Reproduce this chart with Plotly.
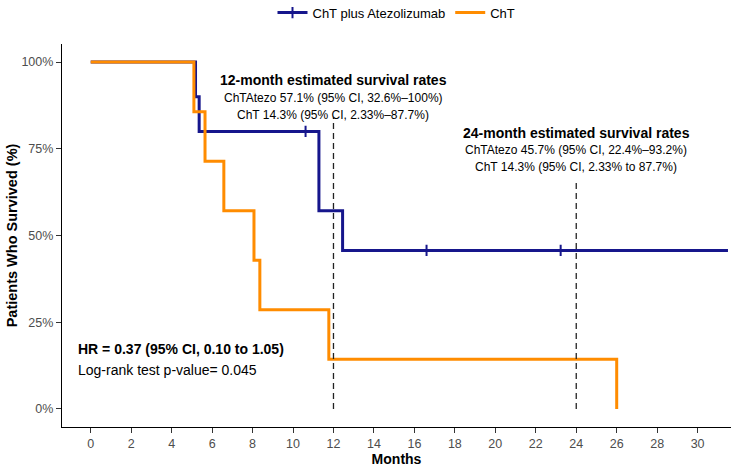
import plotly.graph_objects as go

# ---- data ----
atezo_months = [0, 5.18, 5.36, 10.62, 11.28, 12.45, 16.6, 23.23, 31.5]
atezo_surv = [100, 90, 80, 80, 57.1, 45.7, 45.7, 45.7, 45.7]
atezo_censor_months = [10.62, 16.6, 23.23]
atezo_censor_surv = [80, 45.7, 45.7]

cht_months = [0, 5.10, 5.65, 6.58, 8.07, 8.36, 11.77, 26.0]
cht_surv = [100, 85.7, 71.4, 57.1, 42.9, 28.6, 14.3, 0]

landmark_months = [12, 24]
landmark_tops = [84, 65.5]

x_ticks = list(range(0, 31, 2))
y_ticks = [0, 25, 50, 75, 100]
y_tick_labels = ["0%", "25%", "50%", "75%", "100%"]

note12 = ["12-month estimated survival rates",
          "ChTAtezo 57.1% (95% CI, 32.6%\u2013100%)",
          "ChT 14.3% (95% CI, 2.33%\u201387.7%)"]
note24 = ["24-month estimated survival rates",
          "ChTAtezo 45.7% (95% CI, 22.4%\u201393.2%)",
          "ChT 14.3% (95% CI, 2.33% to 87.7%)"]
hr_text = "HR = 0.37 (95% CI, 0.10 to 1.05)"
p_text = "Log-rank test p-value= 0.045"

BLUE = "#16168C"
ORANGE = "#FF8C00"
FONT = "Liberation Sans, Arial, sans-serif"

fig = go.Figure()

fig.add_trace(go.Scatter(
    x=atezo_months, y=atezo_surv, mode="lines", line_shape="hv",
    line=dict(color=BLUE, width=3), legendgroup="a", showlegend=False,
    hoverinfo="skip"))

# censor marks; gaps keep the points unconnected, legend shows line + "+"
cx, cy = [], []
for i, (m, s) in enumerate(zip(atezo_censor_months, atezo_censor_surv)):
    if i:
        cx.append(None); cy.append(None)
    cx.append(m); cy.append(s)
fig.add_trace(go.Scatter(
    x=cx, y=cy, mode="lines+markers", connectgaps=False,
    name="ChT plus Atezolizumab", legendgroup="a", legendrank=1,
    line=dict(color=BLUE, width=3),
    marker=dict(symbol="cross-thin", size=8, line=dict(color=BLUE, width=2))))

fig.add_trace(go.Scatter(
    x=cht_months, y=cht_surv, mode="lines", line_shape="hv",
    name="ChT", legendrank=2,
    line=dict(color=ORANGE, width=3)))

for m, top in zip(landmark_months, landmark_tops):
    fig.add_shape(type="line", xref="x", yref="y", x0=m, x1=m, y0=0, y1=top,
                  line=dict(color="#222222", width=1.3, dash="6px,4px"))

def add_note(xc, lines, ys):
    fig.add_annotation(x=xc, y=ys[0], xref="x", yref="y", text="<b>" + lines[0] + "</b>",
                       showarrow=False, font=dict(size=14, color="black", family=FONT))
    for t, yy in zip(lines[1:], ys[1:]):
        fig.add_annotation(x=xc, y=yy, xref="x", yref="y", text=t, showarrow=False,
                           font=dict(size=12, color="black", family=FONT))

add_note(landmark_months[0], note12, [94.7, 89.5, 84.7])
add_note(landmark_months[1], note24, [79.6, 74.6, 69.8])

fig.add_annotation(x=-0.73, y=17.3, xref="x", yref="y", xanchor="left", showarrow=False,
                   text="<b>" + hr_text + "</b>", font=dict(size=14, color="black", family=FONT))
fig.add_annotation(x=-0.73, y=11.2, xref="x", yref="y", xanchor="left", showarrow=False,
                   text=p_text, font=dict(size=14, color="black", family=FONT))

fig.update_layout(
    width=731, height=469,
    margin=dict(l=62, r=0, t=44, b=42, autoexpand=False),
    paper_bgcolor="white", plot_bgcolor="white",
    font=dict(family=FONT, color="black"),
    showlegend=True,
    legend=dict(orientation="h", xref="paper", x=0.5, xanchor="center",
                yref="paper", y=1.082, yanchor="middle",
                font=dict(size=13, color="black", family=FONT),
                itemwidth=30, bgcolor="rgba(0,0,0,0)"),
    xaxis=dict(range=[-1.42, 31.65], tickvals=x_ticks, ticks="outside", ticklen=5,
               tickcolor="#333333", showline=True, linecolor="black", linewidth=1.2,
               showgrid=False, zeroline=False, automargin=False,
               tickfont=dict(size=12.5, color="#4D4D4D", family=FONT),
               title=dict(text="<b>Months</b>", font=dict(size=14, color="black", family=FONT),
                          standoff=4)),
    yaxis=dict(range=[-5.2, 105.2], tickvals=y_ticks, ticktext=y_tick_labels,
               ticks="outside", ticklen=5, tickcolor="#333333",
               showline=True, linecolor="black", linewidth=1.2,
               showgrid=False, zeroline=False, automargin=False,
               tickfont=dict(size=12.5, color="#4D4D4D", family=FONT),
               title=dict(text="<b>Patients Who Survived (%)</b>",
                          font=dict(size=14.5, color="black", family=FONT), standoff=0)),
)

fig.write_html("out.html", config={"displayModeBar": False},
               post_script="document.body.style.margin='0';document.body.style.overflow='hidden';")
